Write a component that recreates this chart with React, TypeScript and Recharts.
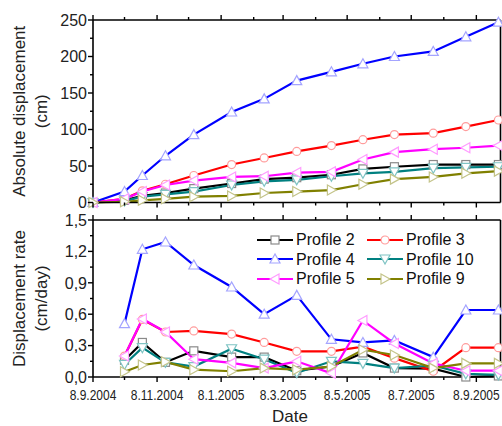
import React from 'react';
import { LineChart, Line, XAxis, YAxis, Legend, Label } from 'recharts';

// sampling dates of the absolute displacement measurements
const absDates = [
  '2004-09-08', '2004-10-08', '2004-10-25', '2004-11-16', '2004-12-13', '2005-01-18', '2005-02-18',
  '2005-03-21', '2005-04-23', '2005-05-23', '2005-06-22', '2005-07-29', '2005-08-29', '2005-09-29',
];
// rate is given per interval, plotted at the end date of the interval
const rateDates = absDates.slice(1);

// absolute displacement (cm)
const absP2 = [0, 3, 9, 13, 19, 26, 32, 34, 38, 46, 49, 52, 52, 52];
const absP3 = [0, 5, 16, 25, 37, 52, 61, 70, 78, 86, 93, 95, 104, 113];
const absP4 = [0, 15, 37, 64, 93, 124, 142, 167, 179, 190, 200, 207, 227, 247];
const absP10 = [0, 2, 8, 11, 15, 24, 29, 31, 36, 40, 42, 47, 48, 49];
const absP5 = [0, 5, 15, 24, 30, 35, 36, 41, 42, 59, 69, 73, 75, 78];
const absP9 = [0, 1, 3, 5, 8, 9, 13, 15, 17, 25, 32, 35, 40, 43];

// displacement rate (cm/day)
const rateP2 = [0.16, 0.33, 0.14, 0.25, 0.19, 0.19, 0.06, 0.10, 0.23, 0.085, 0.08, 0.0, 0.01];
const rateP3 = [0.2, 0.55, 0.43, 0.44, 0.41, 0.33, 0.245, 0.245, 0.29, 0.18, 0.055, 0.28, 0.28];
const rateP4 = [0.51, 1.22, 1.29, 1.07, 0.86, 0.6, 0.78, 0.36, 0.33, 0.35, 0.19, 0.64, 0.64];
const rateP10 = [0.12, 0.28, 0.14, 0.1, 0.27, 0.17, 0.04, 0.15, 0.13, 0.085, 0.11, 0.03, 0.02];
const rateP5 = [0.2, 0.555, 0.43, 0.17, 0.135, 0.085, 0.15, 0.035, 0.54, 0.32, 0.13, 0.06, 0.06];
const rateP9 = [0.05, 0.115, 0.145, 0.07, 0.055, 0.085, 0.07, 0.1, 0.26, 0.21, 0.085, 0.13, 0.13];

const majorDates = ['2004-09-08', '2004-11-08', '2005-01-08', '2005-03-08', '2005-05-08', '2005-07-08', '2005-09-08'];
const minorDates = ['2004-10-08', '2004-12-08', '2005-02-08', '2005-04-08', '2005-06-08', '2005-08-08'];
const xStart = '2004-09-08';
const xEnd = '2005-10-01';

const dispMajor = [0, 50, 100, 150, 200, 250];
const dispMinor = [25, 75, 125, 175, 225];
const rateMajor = [0, 0.3, 0.6, 0.9, 1.2, 1.5];
const rateMinor = [0.15, 0.45, 0.75, 1.05, 1.35];

const series = [
  { key: 'p2', name: 'Profile 2', color: '#000000', marker: '#8a8a8a', shape: 'square' },
  { key: 'p3', name: 'Profile 3', color: '#ff0000', marker: '#ff9c9c', shape: 'circle' },
  { key: 'p4', name: 'Profile 4', color: '#0000ff', marker: '#a4a4ff', shape: 'up' },
  { key: 'p10', name: 'Profile 10', color: '#008080', marker: '#7fc4c4', shape: 'down' },
  { key: 'p5', name: 'Profile 5', color: '#ff00ff', marker: '#ff9cff', shape: 'left' },
  { key: 'p9', name: 'Profile 9', color: '#808000', marker: '#c4c48a', shape: 'right' },
];

const ts = (s: string) => Date.parse(s + 'T00:00:00Z');

const absData = absDates.map((d, i) => ({
  t: ts(d), p2: absP2[i], p3: absP3[i], p4: absP4[i], p10: absP10[i], p5: absP5[i], p9: absP9[i],
}));
const rateData = rateDates.map((d, i) => ({
  t: ts(d), p2: rateP2[i], p3: rateP3[i], p4: rateP4[i], p10: rateP10[i], p5: rateP5[i], p9: rateP9[i],
}));

const majorT = majorDates.map(ts);
const xTicks = [...majorDates, ...minorDates].map(ts).sort((a, b) => a - b);
const xDomain = [ts(xStart), ts(xEnd)];

const FONT = "'Liberation Sans', Arial, sans-serif";
const AXIS = { stroke: '#000', strokeWidth: 1.6 };

const fmtDate = (t: number) => {
  const d = new Date(t);
  return `${d.getUTCDate()}.${d.getUTCMonth() + 1}.${d.getUTCFullYear()}`;
};
const fmtComma = (v: number) => v.toFixed(1).replace('.', ',');

function Marker({ cx, cy, shape, stroke }: any) {
  const r = 4;
  const common = { fill: '#fff', stroke, strokeWidth: 1.2 };
  switch (shape) {
    case 'square':
      return <rect x={cx - r} y={cy - r} width={2 * r} height={2 * r} {...common} />;
    case 'circle':
      return <circle cx={cx} cy={cy} r={r} {...common} />;
    case 'up':
      return <polygon points={`${cx},${cy - 5} ${cx - 5},${cy + 4} ${cx + 5},${cy + 4}`} {...common} />;
    case 'down':
      return <polygon points={`${cx},${cy + 5} ${cx - 5},${cy - 4} ${cx + 5},${cy - 4}`} {...common} />;
    case 'left':
      return <polygon points={`${cx - 5},${cy} ${cx + 4},${cy - 5} ${cx + 4},${cy + 5}`} {...common} />;
    default:
      return <polygon points={`${cx + 5},${cy} ${cx - 4},${cy - 5} ${cx - 4},${cy + 5}`} {...common} />;
  }
}

// axis ticks with long major / short minor marks, labels only on majors when asked
const tickRenderer = (orient: string, majors: number[], format?: (v: number) => string, size?: number, squeeze = 1) =>
  (props: any) => {
    const { x, y, payload } = props;
    const v = payload.value;
    const major = majors.some((m) => Math.abs(m - v) < 1e-6);
    const len = major ? 5 : 3;
    let line;
    if (orient === 'bottom') line = <line x1={x} y1={y} x2={x} y2={y + len} stroke="#000" strokeWidth={1.4} />;
    else if (orient === 'top') line = <line x1={x} y1={y} x2={x} y2={y - len} stroke="#000" strokeWidth={1.4} />;
    else if (orient === 'left') line = <line x1={x} y1={y} x2={x - len} y2={y} stroke="#000" strokeWidth={1.4} />;
    else line = <line x1={x} y1={y} x2={x + len} y2={y} stroke="#000" strokeWidth={1.4} />;
    let text = null;
    if (major && format) {
      if (orient === 'bottom')
        text = (
          <text transform={`translate(${x}, ${y + 23}) scale(${squeeze}, 1)`} textAnchor="middle"
            fontSize={size} fontFamily={FONT} fill="#222">{format(v)}</text>
        );
      else if (orient === 'left')
        text = <text x={x - 6} y={y} dy="0.36em" textAnchor="end" fontSize={size} fontFamily={FONT} fill="#222">{format(v)}</text>;
    }
    return <g>{line}{text}</g>;
  };

const yTitle = (l1: string, l2: string) => (p: any) => {
  const vb = p.viewBox || { x: 0, y: 0, width: 0, height: 0 };
  const cy = vb.y + vb.height / 2;
  return (
    <g fontFamily={FONT} fontSize={17} fill="#222">
      <text x={19} y={cy} transform={`rotate(-90, 19, ${cy})`} textAnchor="middle" dominantBaseline="central">{l1}</text>
      <text x={41} y={cy} transform={`rotate(-90, 41, ${cy})`} textAnchor="middle" dominantBaseline="central">{l2}</text>
    </g>
  );
};

const renderLegend = () => (
  <div style={{ display: 'grid', gridTemplateColumns: '110px 120px', fontFamily: FONT }}>
    {series.map((s) => (
      <div key={s.key} style={{ display: 'flex', alignItems: 'center', height: 19.5 }}>
        <svg width={39} height={14} style={{ display: 'block' }}>
          <line x1={0} y1={7} x2={36} y2={7} stroke={s.color} strokeWidth={2.2} />
          <Marker cx={18} cy={7} shape={s.shape} stroke={s.marker} />
        </svg>
        <span style={{ fontSize: 16, color: '#111', lineHeight: '19.5px', whiteSpace: 'nowrap' }}>{s.name}</span>
      </div>
    ))}
  </div>
);

const lines = () =>
  series.map((s) => (
    <Line
      key={s.key}
      type="linear"
      dataKey={s.key}
      name={s.name}
      stroke={s.color}
      strokeWidth={2.2}
      isAnimationActive={false}
      dot={(p: any) => <Marker key={`${s.key}-${p.index}`} cx={p.cx} cy={p.cy} shape={s.shape} stroke={s.marker} />}
      activeDot={false}
    />
  ));

export default function App() {
  return (
    <div style={{ position: 'absolute', left: 0, top: 0, width: 502, height: 426, background: '#fff', overflow: 'hidden' }}>
      <div style={{ position: 'absolute', left: 0, top: 0 }}>
        <LineChart width={502} height={212} data={absData} margin={{ top: 15, right: 0, bottom: 0, left: 0 }}>
          <XAxis dataKey="t" type="number" domain={xDomain} ticks={xTicks} height={9.5}
            axisLine={AXIS} tickLine={false} tickSize={0} tickMargin={0} interval={0}
            tick={tickRenderer('bottom', majorT)} />
          <XAxis xAxisId="top" orientation="top" dataKey="t" type="number" domain={xDomain} ticks={xTicks} height={5}
            axisLine={AXIS} tickLine={false} tickSize={0} tickMargin={0} interval={0}
            tick={tickRenderer('top', majorT)} />
          <YAxis type="number" domain={[0, 250]} ticks={[...dispMajor, ...dispMinor].sort((a, b) => a - b)} width={93}
            axisLine={AXIS} tickLine={false} tickSize={0} tickMargin={0} interval={0}
            tick={tickRenderer('left', dispMajor, (v) => String(v), 16)}>
            <Label content={yTitle('Absolute displacement', '(cm)')} />
          </YAxis>
          <YAxis yAxisId="right" orientation="right" type="number" domain={[0, 250]}
            ticks={[...dispMajor, ...dispMinor].sort((a, b) => a - b)} width={1.5}
            axisLine={AXIS} tickLine={false} tickSize={0} tickMargin={0} interval={0}
            tick={tickRenderer('right', dispMajor)} />
          {lines()}
        </LineChart>
      </div>
      <div style={{ position: 'absolute', left: 0, top: 212 }}>
        <LineChart width={502} height={214} data={rateData} margin={{ top: 3, right: 0, bottom: 0, left: 0 }}>
          <XAxis dataKey="t" type="number" domain={xDomain} ticks={xTicks} height={49}
            axisLine={AXIS} tickLine={false} tickSize={0} tickMargin={0} interval={0}
            tick={tickRenderer('bottom', majorT, fmtDate, 15, 0.8)}>
            <Label content={() => (
              <text x={290} y={204} textAnchor="middle" dominantBaseline="central" fontFamily={FONT} fontSize={17} fill="#222">Date</text>
            )} />
          </XAxis>
          <XAxis xAxisId="top" orientation="top" dataKey="t" type="number" domain={xDomain} ticks={xTicks} height={5}
            axisLine={AXIS} tickLine={false} tickSize={0} tickMargin={0} interval={0}
            tick={tickRenderer('top', majorT)} />
          <YAxis type="number" domain={[0, 1.5]} ticks={[...rateMajor, ...rateMinor].sort((a, b) => a - b)} width={93}
            axisLine={AXIS} tickLine={false} tickSize={0} tickMargin={0} interval={0}
            tick={tickRenderer('left', rateMajor, fmtComma, 16)}>
            <Label content={yTitle('Displacement rate', '(cm/day)')} />
          </YAxis>
          <YAxis yAxisId="right" orientation="right" type="number" domain={[0, 1.5]}
            ticks={[...rateMajor, ...rateMinor].sort((a, b) => a - b)} width={1.5}
            axisLine={AXIS} tickLine={false} tickSize={0} tickMargin={0} interval={0}
            tick={tickRenderer('right', rateMajor)} />
          {lines()}
          <Legend layout="vertical" align="center" verticalAlign="middle" content={renderLegend}
            wrapperStyle={{ left: 257, top: 18, width: 235 }} />
        </LineChart>
      </div>
    </div>
  );
}
